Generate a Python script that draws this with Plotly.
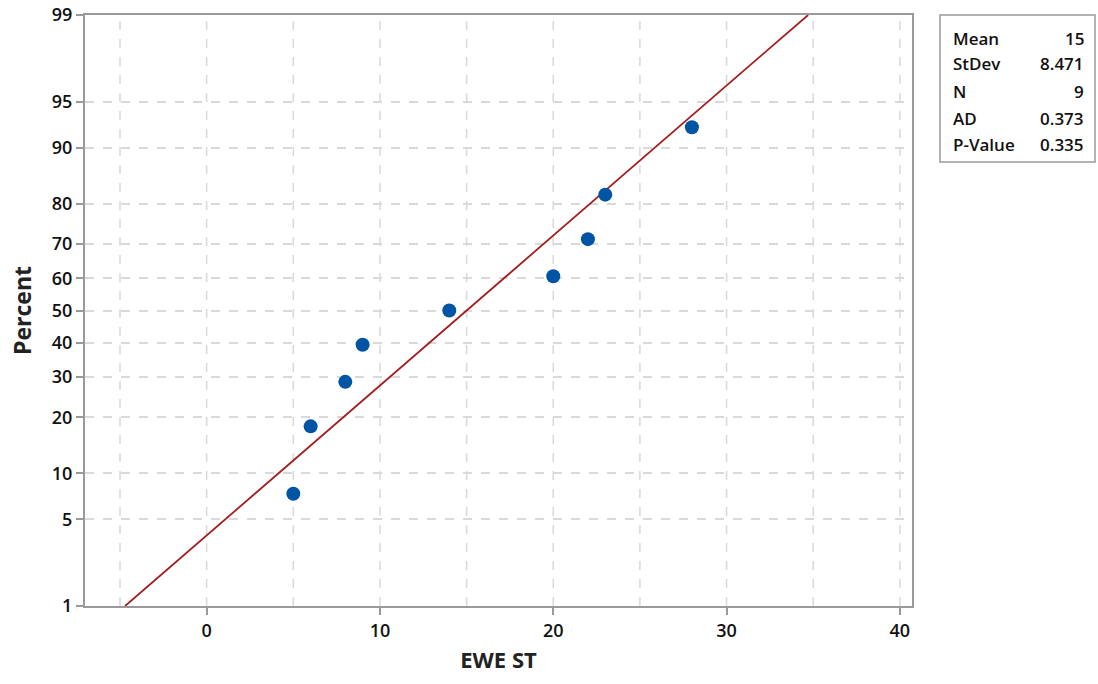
import plotly.graph_objects as go
from statistics import NormalDist

# Data
ewe_st = [5, 6, 8, 9, 14, 20, 22, 23, 28]
percent = [7.45, 18.09, 28.72, 39.36, 50.00, 60.64, 71.28, 81.91, 92.55]
mean = 15.0
stdev = 8.471
stat_labels = ["Mean", "StDev", "N", "AD", "P-Value"]
stat_values = ["15", "8.471", "9", "0.373", "0.335"]
y_ticks = [1, 5, 10, 20, 30, 40, 50, 60, 70, 80, 90, 95, 99]
x_ticks = [0, 10, 20, 30, 40]

nd = NormalDist()
def z(p):
    return nd.inv_cdf(p / 100.0)

# fitted line from 1% to 99%
line_p = [1, 99]
line_x = [mean + stdev * z(p) for p in line_p]
line_y = [z(p) for p in line_p]

fig = go.Figure()
fig.add_trace(go.Scatter(x=line_x, y=line_y, mode="lines",
                         line=dict(color="#A31F1F", width=1.8),
                         hoverinfo="skip", showlegend=False))
fig.add_trace(go.Scatter(x=ewe_st, y=[z(p) for p in percent], mode="markers",
                         marker=dict(color="#0054A4", size=14),
                         showlegend=False))

grid = dict(showgrid=True, gridcolor="#D9D9D9", gridwidth=1.5, griddash="dash")
fig.update_xaxes(range=[-7.02, 40.7], tickmode="array", tickvals=x_ticks,
                 ticktext=[str(v) for v in x_ticks], automargin=False,
                 showline=True, linecolor="#9A9A9A", linewidth=2, mirror=True,
                 ticks="outside", ticklen=7, tickcolor="#9A9A9A", tickwidth=1.5,
                 zeroline=False, showgrid=False,
                 tickfont=dict(size=18, color="#111111", weight=600),
                 title=dict(text="<b>EWE ST</b>", font=dict(size=22, color="#222222"), standoff=12))
fig.update_yaxes(range=[z(1), z(99)], tickmode="array", automargin=False,
                 tickvals=[z(v) for v in y_ticks], ticktext=[str(v) for v in y_ticks],
                 showline=True, linecolor="#9A9A9A", linewidth=2, mirror=True,
                 ticks="outside", ticklen=7, tickcolor="#9A9A9A", tickwidth=1.5,
                 zeroline=False, tickfont=dict(size=18, color="#111111", weight=600),
                 title=dict(text="<b>Percent</b>", font=dict(size=23, color="#222222"), standoff=14),
                 **grid)

# vertical gridlines every 5
shapes = []
for gx in range(-5, 41, 5):
    shapes.append(dict(type="line", xref="x", yref="paper", x0=gx, x1=gx, y0=0, y1=1,
                       line=dict(color="#D9D9D9", width=1.5, dash="dash"), layer="below"))
# stats box
shapes.append(dict(type="rect", xref="paper", yref="paper",
                   x0=(940 - 85) / 827, x1=(1095 - 85) / 827, y0=(606 - 162) / 591, y1=1.0,
                   line=dict(color="#9A9A9A", width=1.5), fillcolor="white"))

annotations = []
row_y = [38, 64, 91, 118, 144]
for lab, val, py in zip(stat_labels, stat_values, row_y):
    yp = (606 - py) / 591
    annotations.append(dict(xref="paper", yref="paper", x=(951 - 85) / 827, y=yp,
                            text=lab, showarrow=False, xanchor="left", yanchor="middle",
                            font=dict(size=17, color="#111111", family="Open Sans", weight=600)))
    annotations.append(dict(xref="paper", yref="paper", x=(1086 - 85) / 827, y=yp,
                            text=val, showarrow=False, xanchor="right", yanchor="middle",
                            font=dict(size=17, color="#111111", family="Open Sans", weight=600)))

fig.update_layout(width=1098, height=684, margin=dict(l=85, r=186, t=15, b=78, autoexpand=False),
                  paper_bgcolor="white", plot_bgcolor="white",
                  font=dict(family="Open Sans", color="#111111"),
                  shapes=shapes, annotations=annotations)

fig.write_html("out.html", config={"displayModeBar": False},
               post_script="document.body.style.margin='0';document.body.style.overflow='hidden';")
